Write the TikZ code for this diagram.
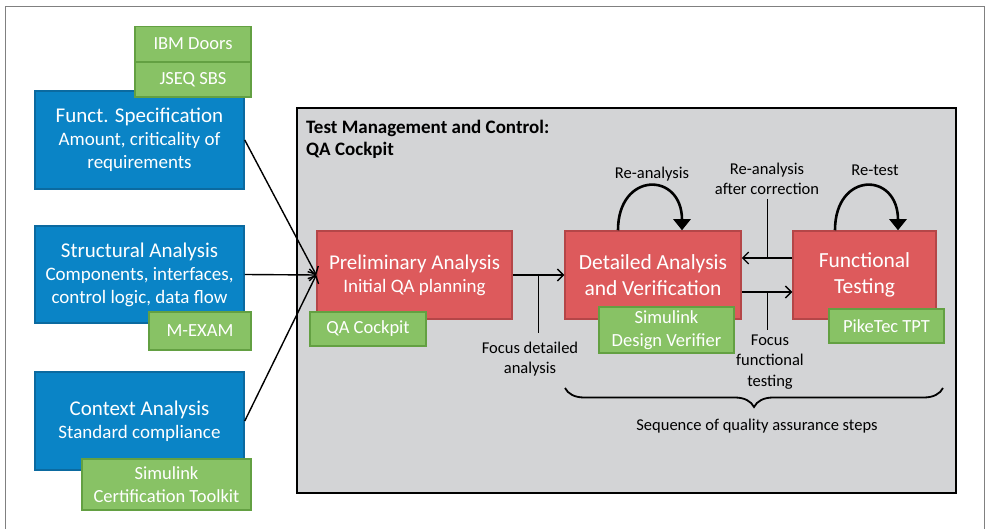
\documentclass[tikz,border=0pt]{standalone}
\usepackage{fontspec}
\setmainfont{Carlito}
\usetikzlibrary{arrows.meta,decorations.pathreplacing}

\definecolor{specblue}{HTML}{0A84C6}
\definecolor{specblueline}{HTML}{0B6AA0}
\definecolor{toolgreen}{HTML}{88C265}
\definecolor{toolgreenline}{HTML}{63A042}
\definecolor{stepred}{HTML}{DD5A5C}
\definecolor{stepredline}{HTML}{B44648}
\definecolor{qagrey}{HTML}{D3D4D6}

\newcommand{\headsize}{\fontsize{21}{23}\selectfont}
\newcommand{\subsize}{\fontsize{19}{23}\selectfont}

\tikzset{
  specbox/.style={draw=specblueline, fill=specblue, line width=1.5pt, text=white,
    align=center, minimum width=209pt, inner sep=0pt, font=\subsize},
  toolbox/.style={draw=toolgreenline, fill=toolgreen, line width=1.5pt, text=white,
    align=center, inner sep=0pt, font=\fontsize{18.5}{23.5}\selectfont},
  stepbox/.style={draw=stepredline, fill=stepred, line width=1.5pt, text=white,
    align=center, minimum height=88pt, inner sep=0pt},
  note/.style={align=center, font=\fontsize{16.5}{20.5}\selectfont},
  flow/.style={line width=1.4pt, -{Straight Barb[length=6pt,width=12pt]}},
  loop/.style={line width=2.6pt, -{Triangle[length=11pt,width=17pt]}}
}

\begin{document}
\begin{tikzpicture}[x=1pt,y=-1pt]
    \useasboundingbox (0,0) rectangle (986,529);
    \draw[gray, line width=1pt] (5,540) -- (5,7) -- (984,7) -- (984,540);

    % QA cockpit frame
    \draw[fill=qagrey, line width=1.6pt] (297,108) rectangle (956,493);
    \node[anchor=north west, align=left, inner sep=0pt, font=\bfseries\fontsize{19}{22}\selectfont]
        (title) at (306,120) {Test Management and Control:\\QA Cockpit};

    % inputs
    \node[specbox, minimum height=98pt] (fspec) at (139.5,140)
        {\headsize Funct. Specification\\Amount, criticality of\\requirements};
    \node[specbox, minimum height=97pt] (sana) at (139.5,274.5)
        {\headsize Structural Analysis\\Components, interfaces,\\control logic, data flow};
    \node[specbox, minimum height=98pt] (cana) at (139.5,421)
        {\headsize Context Analysis\\Standard compliance};

    % steps
    \node[stepbox, minimum width=195pt, font=\subsize] (pre) at (414.5,275)
        {\headsize Preliminary Analysis\\Initial QA planning};
    \node[stepbox, minimum width=176pt, font=\fontsize{21.5}{26}\selectfont] (det) at (653,275)
        {Detailed Analysis\\and Verification};
    \node[stepbox, minimum width=143pt, font=\fontsize{21.5}{26}\selectfont] (fun) at (864.5,275)
        {Functional\\Testing};

    % tools
    \node[toolbox, minimum width=116pt, minimum height=35pt] (doors) at (193,44) {IBM Doors};
    \node[toolbox, minimum width=116pt, minimum height=35pt] (jseq) at (193,79.5) {JSEQ SBS};
    \node[toolbox, minimum width=102pt, minimum height=38pt] (mexam) at (200,331) {M-EXAM};
    \node[toolbox, minimum width=169pt, minimum height=51pt] (sct) at (166.5,484.5)
        {Simulink\\Certification Toolkit};
    \node[toolbox, minimum width=116pt, minimum height=34pt] (qac) at (368,329) {QA Cockpit};
    \node[toolbox, minimum width=135pt, minimum height=46pt] (sdv) at (666.5,330)
        {Simulink\\Design Verifier};
    \node[toolbox, minimum width=115pt, minimum height=34pt] (tpt) at (886.5,326) {PikeTec TPT};

    \draw[flow] (fspec.east) -- (pre.west);
    \draw[flow] (sana.east) -- (pre.west);
    \draw[flow] (cana.east) -- (pre.west);
    \draw[flow] (pre.east) -- (det.west);
    \draw[flow] ([yshift=17pt]fun.west) -- ([yshift=17pt]det.east);
    \draw[flow] ([yshift=-17pt]det.east) -- ([yshift=-17pt]fun.west);

    % loops
    \draw[loop] ([xshift=-35pt]det.north) .. controls +(0,-59) and +(0,-59) .. ([xshift=29pt]det.north);
    \draw[loop] ([xshift=-29.5pt]fun.north) .. controls +(0,-59) and +(0,-59) .. ([xshift=33.5pt]fun.north);
    \node[note] (reana) at (652,174) {Re-analysis};
    \node[note] (retest) at (875,170) {Re-test};

    % labels on the flow
    \node[note] (fdet) at (530,359) {Focus detailed\\analysis};
    \node[note] (corr) at (767,179) {Re-analysis\\after correction};
    \node[note] (ffun) at (770,362) {Focus\\functional\\testing};
    \draw[line width=0.8pt] (538,274) -- (538,333);
    \draw[line width=0.8pt] (767,199) -- (767,258);
    \draw[line width=0.8pt] (767,292) -- (767,330);

    \coordinate (bl) at (565,388);
    \coordinate (br) at (943,388);
    \draw[line width=1.8pt, decorate, decoration={brace, mirror, amplitude=19pt}] (bl) -- (br);
    \node[note] (seq) at (757,426) {Sequence of quality assurance steps};
\end{tikzpicture}
\end{document}
